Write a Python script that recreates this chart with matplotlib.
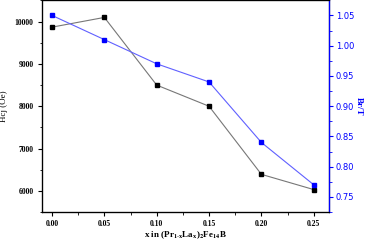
import matplotlib.pyplot as plt
from matplotlib.ticker import MultipleLocator

# data
x = [0.00, 0.05, 0.10, 0.15, 0.20, 0.25]
hcj = [9870, 10100, 8500, 8000, 6390, 6030]
br = [1.05, 1.01, 0.97, 0.94, 0.84, 0.77]
br_ticks = [0.75, 0.80, 0.85, 0.90, 0.95, 1.00, 1.05]

serif = ['Liberation Serif', 'DejaVu Serif']
plt.rcParams['mathtext.fontset'] = 'stix'

fig = plt.figure(figsize=(3.67, 2.47), dpi=100)
ax = fig.add_axes([0.1144, 0.1417, 0.7821, 0.8563])

ax.plot(x, hcj, color='#777777', linewidth=0.8, marker='s', markersize=3.5,
        markerfacecolor='black', markeredgecolor='black')
ax.set_xlim(-0.0096, 0.2646)
ax.set_ylim(5500, 10500)
ax.xaxis.set_minor_locator(MultipleLocator(0.025))
ax.yaxis.set_major_locator(MultipleLocator(1000))
ax.yaxis.set_minor_locator(MultipleLocator(500))
ax.set_xticks(x)
ax.set_xticklabels([f'{v:.2f}' for v in x], fontfamily=serif, fontsize=5.5,
                   fontweight='bold')
for lbl in ax.get_yticklabels():
    lbl.set_fontfamily(serif)
    lbl.set_fontsize(5.5)
    lbl.set_fontweight('bold')
ax.tick_params(which='major', direction='out', length=3, width=0.8, pad=3)
ax.tick_params(which='minor', direction='out', length=1.8, width=0.6)
ax.tick_params(top=False, right=False, which='both')
ax.set_ylabel('Hcj (Oe)', fontfamily=serif, fontsize=6.5, labelpad=5)
ax.set_xlabel(r'x in (Pr$_{\mathbf{1\text{-}x}}$La$_\mathbf{x}$)$_\mathbf{2}$Fe$_{\mathbf{14}}$B',
              fontfamily=serif, fontsize=6.5, fontweight='bold', labelpad=1)
for s in ax.spines.values():
    s.set_linewidth(0.9)

ax2 = ax.twinx()
ax2.plot(x, br, color='#6060ff', linewidth=0.8, marker='s', markersize=3.5,
         markerfacecolor='#0000ff', markeredgecolor='#0000ff')
ax2.set_ylim(0.725, 1.0747)
ax2.yaxis.set_minor_locator(MultipleLocator(0.025))
ax2.set_yticks(br_ticks)
ax2.set_yticklabels([f'{v:.2f}' for v in br_ticks], fontsize=6, color='#0000ff')
ax2.tick_params(which='major', direction='out', length=3, width=0.8, pad=2, colors='#0000ff')
ax2.tick_params(which='minor', direction='out', length=1.8, width=0.6, colors='#0000ff')
ax2.spines['right'].set_color('#0000ff')
ax2.spines['right'].set_linewidth(0.9)
ax2.set_ylabel('Br/T', fontfamily=serif, fontsize=6.5, color='#0000ff',
               fontweight='bold', rotation=270, labelpad=6)

fig.savefig('out.png', dpi=100)
